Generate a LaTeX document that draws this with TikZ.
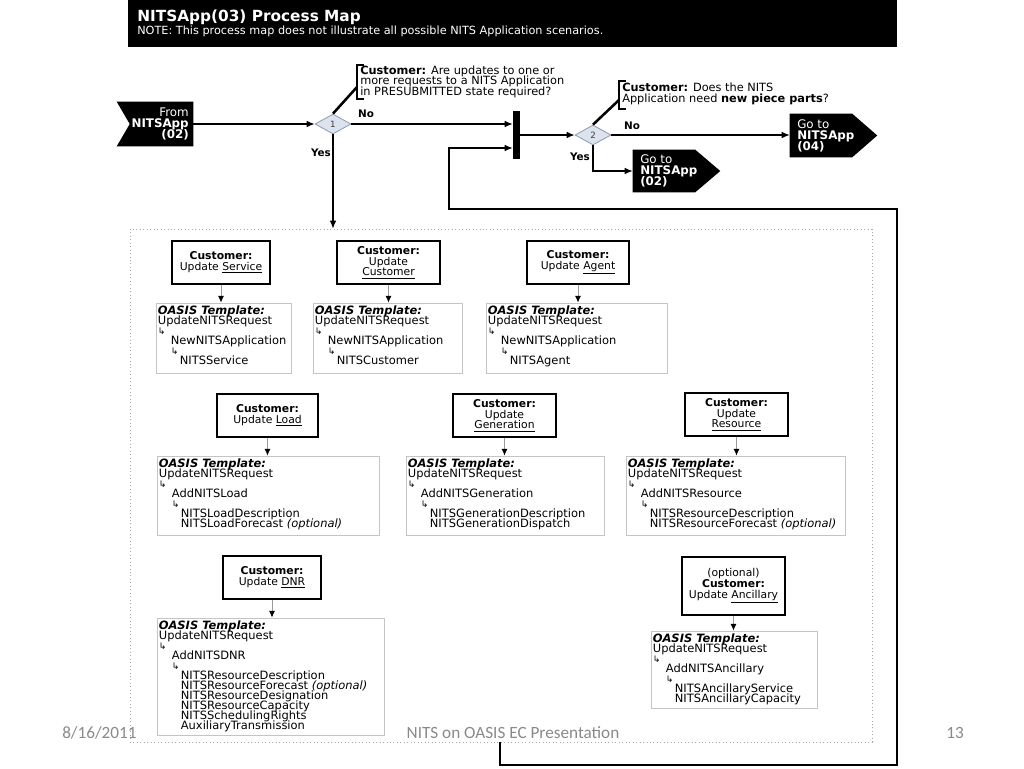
\documentclass[tikz,border=0pt]{standalone}
\usepackage{fontspec}
\setmainfont{DejaVu Sans}
\newfontfamily\footfont{Carlito}
\usetikzlibrary{arrows.meta,shapes.geometric,fit,calc}
\definecolor{tplgray}{HTML}{C4C4C4}
\definecolor{contgray}{HTML}{A8A8A8}
\definecolor{lngray}{HTML}{9A9A9A}
\definecolor{diafill}{HTML}{DCE3EE}
\definecolor{diadraw}{HTML}{8C9AAE}
\definecolor{footgray}{HTML}{8A8A8A}
\newcommand{\hk}{{\fontsize{6.8}{6.8}\selectfont ↳}}
\newcommand{\tight}{\lineskiplimit=-20pt\relax}
\tikzset{
  cbox/.style={draw=black, line width=1.5pt, inner sep=0pt},
  ctext/.style={inner sep=0pt, align=center,
    font=\fontsize{8.1}{8.0}\selectfont\tight},
  tbox/.style={draw=tplgray, line width=0.6pt, inner sep=0pt},
  tpl/.style={inner sep=0pt, anchor=north west, align=left,
    font=\fontsize{8.6}{7.52}\selectfont\tight},
  flow/.style={line width=0.9pt, -{Latex[length=6pt,width=5pt]}},
  sub/.style={draw=lngray, line width=0.7pt, -{Latex[length=5pt,width=4.5pt,black]}},
  dia/.style={diamond, aspect=1.8, draw=diadraw, fill=diafill, line width=0.6pt,
    minimum width=27pt, minimum height=15pt, inner sep=0pt,
    font=\fontsize{6.5}{7}\selectfont, text=black!75},
  lbl/.style={font=\bfseries\fontsize{7.8}{8}\selectfont, inner sep=0pt},
  callout/.style={line width=1.9pt},
  qtext/.style={inner sep=0pt, anchor=north west, align=left,
    font=\fontsize{8.5}{7.95}\selectfont\tight},
  ghost/.style={inner sep=0pt},
  wtext/.style={text=white, inner sep=0pt, font=\fontsize{8.9}{8.35}\selectfont\tight},
  foot/.style={inner sep=0pt, text=footgray, font=\footfont\fontsize{12.9}{14}\selectfont}
}
\begin{document}
\begin{tikzpicture}[x=0.75pt,y=-0.75pt]
\useasboundingbox (0,0) rectangle (1024,768);
\fill[white] (0,0) rectangle (1024,768);

% header
\node[ghost, fill=black, fit={(128,0)(897,47)}] (hdr) {};
\node[anchor=west, inner sep=0pt, text=white, font=\bfseries\fontsize{11.5}{13}\selectfont] (title) at (137,17) {NITSApp(03) Process Map};
\node[anchor=west, inner sep=0pt, text=white, font=\fontsize{8.45}{9}\selectfont] (note) at (137,31) {NOTE: This process map does not illustrate all possible NITS Application scenarios.};

% container
\node[ghost, draw=contgray, dotted, line width=0.6pt, fit={(130,229)(872,742)}] (cont) {};

% From NITSApp (02)
\node[ghost, fit={(117,102)(193,146)}] (fr) {};
\fill[black] (fr.north west) -- (fr.north east) -- (fr.south east) -- (fr.south west) -- ($(fr.west)+(13,0)$) -- cycle;
\node[wtext, align=right, anchor=east] (frt) at (189,124) {From\\\textbf{NITSApp}\\\textbf{(02)}};

% diamond 1
\node[dia] (d1) at (333,124) {1};
\node[ghost, fill=black, fit={(513,111)(520,159)}] (bar) {};

\draw[flow] (fr.east) -- (d1.west);
\draw[flow] (d1.east) -- (d1.east -| bar.west);
\draw[flow] (d1.south) -- (d1.south |- cont.north);
\node[lbl] (no1) at (366,114) {No};
\node[lbl] (yes1) at (321,153) {Yes};

% callout 1
\coordinate (q1b) at (357,87);
\draw[callout] (d1.north) -- (q1b);
\draw[callout] (364,65) -- (357,65) -- (357,99) -- (364,99);
\node[qtext] (q1) at (360,65.5) {\textbf{Customer:} Are updates to one or\\more requests to a NITS Application\\in PRESUBMITTED state required?};

% diamond 2
\node[dia] (d2) at (593,135) {2};
\draw[flow] (bar.east) -- (d2.west);
\coordinate (q2b) at (619,100);
\draw[callout] (d2.north) -- (q2b);
\draw[callout] (626,81) -- (619,81) -- (619,109) -- (626,109);
\node[qtext] (q2) at (622,83) {\textbf{Customer:} Does the NITS\\Application need \textbf{new piece parts}?};
\node[lbl] (no2) at (632,126) {No};
\node[lbl] (yes2) at (580,157) {Yes};

% Go to NITSApp (04)
\node[ghost, fit={(790,114)(877,157)}] (g4) {};
\fill[black] (g4.north west) -- ($(g4.north east)+(-25,0)$) -- (g4.east) -- ($(g4.south east)+(-25,0)$) -- (g4.south west) -- cycle;
\node[wtext, align=left, anchor=west] (g4t) at (797,136) {Go to\\\textbf{NITSApp}\\\textbf{(04)}};
% Go to NITSApp (02)
\node[ghost, fit={(633,150)(720,192)}] (g2) {};
\fill[black] (g2.north west) -- ($(g2.north east)+(-25,0)$) -- (g2.east) -- ($(g2.south east)+(-25,0)$) -- (g2.south west) -- cycle;
\node[wtext, align=left, anchor=west] (g2t) at (640,171) {Go to\\\textbf{NITSApp}\\\textbf{(02)}};

\draw[flow] (d2.east) -- (d2.east -| g4.west);
\draw[flow] (d2.south) |- (g2.west);

% loop back
\coordinate (l1) at (500,765);
\coordinate (l2) at (897,765);
\coordinate (l3) at (897,209);
\coordinate (l4) at (449,209);
\coordinate (l5) at (449,148);
\draw[flow] (cont.south -| l1) -- (l1) -- (l2) -- (l3) -- (l4) -- (l5) -- (l5 -| bar.west);

% customer boxes
\node[cbox, fit={(172,241)(270,284)}] (c1) {};
\node[cbox, fit={(337,241)(440,284)}] (c2) {};
\node[cbox, fit={(527,241)(629,284)}] (c3) {};
\node[cbox, fit={(217,394)(318,437)}] (c4) {};
\node[cbox, fit={(453,394)(556,437)}] (c5) {};
\node[cbox, fit={(685,393)(788,436)}] (c6) {};
\node[cbox, fit={(223,556)(321,599)}] (c7) {};
\node[cbox, fit={(682,557)(785,615)}] (c8) {};
\node[ctext] (c1t) at (c1.center) {\textbf{Customer:}\\Update \underline{Service}};
\node[ctext] (c2t) at (c2.center) {\textbf{Customer:}\\Update\\\underline{Customer}};
\node[ctext] (c3t) at (c3.center) {\textbf{Customer:}\\Update \underline{Agent}};
\node[ctext] (c4t) at (c4.center) {\textbf{Customer:}\\Update \underline{Load}};
\node[ctext] (c5t) at (c5.center) {\textbf{Customer:}\\Update\\\underline{Generation}};
\node[ctext] (c6t) at (c6.center) {\textbf{Customer:}\\Update\\\underline{Resource}};
\node[ctext] (c7t) at (c7.center) {\textbf{Customer:}\\Update \underline{DNR}};
\node[ctext] (c8t) at (c8.center) {(optional)\\\textbf{Customer:}\\Update \underline{Ancillary}};

% template boxes
\node[tbox, fit={(156,303)(291,373)}] (t1) {};
\node[tbox, fit={(313,303)(462,373)}] (t2) {};
\node[tbox, fit={(486,303)(667,373)}] (t3) {};
\node[tbox, fit={(157,456)(379,535)}] (t4) {};
\node[tbox, fit={(406,456)(604,535)}] (t5) {};
\node[tbox, fit={(626,456)(845,535)}] (t6) {};
\node[tbox, fit={(157,618)(384,735)}] (t7) {};
\node[tbox, fit={(651,631)(817,708)}] (t8) {};

\foreach \c/\t in {c1/t1,c2/t2,c3/t3,c4/t4,c5/t5,c6/t6,c7/t7,c8/t8}
  \draw[sub] (\c.south) -- (\c.south |- \t.north);

\newcommand{\oasis}{\textbf{\textit{OASIS Template:}}\\UpdateNITSRequest\\\hk\\}
\node[tpl] (t1x) at ($(t1.north west)+(2,2.5)$) {\oasis\hspace*{9.75pt}NewNITSApplication\\\hspace*{9.75pt}\hk\\\hspace*{16.5pt}NITSService};
\node[tpl] (t2x) at ($(t2.north west)+(2,2.5)$) {\oasis\hspace*{9.75pt}NewNITSApplication\\\hspace*{9.75pt}\hk\\\hspace*{16.5pt}NITSCustomer};
\node[tpl] (t3x) at ($(t3.north west)+(2,2.5)$) {\oasis\hspace*{9.75pt}NewNITSApplication\\\hspace*{9.75pt}\hk\\\hspace*{16.5pt}NITSAgent};
\node[tpl] (t4x) at ($(t4.north west)+(2,2.5)$) {\oasis\hspace*{9.75pt}AddNITSLoad\\\hspace*{9.75pt}\hk\\\hspace*{16.5pt}NITSLoadDescription\\\hspace*{16.5pt}NITSLoadForecast \textit{(optional)}};
\node[tpl] (t5x) at ($(t5.north west)+(2,2.5)$) {\oasis\hspace*{9.75pt}AddNITSGeneration\\\hspace*{9.75pt}\hk\\\hspace*{16.5pt}NITSGenerationDescription\\\hspace*{16.5pt}NITSGenerationDispatch};
\node[tpl] (t6x) at ($(t6.north west)+(2,2.5)$) {\oasis\hspace*{9.75pt}AddNITSResource\\\hspace*{9.75pt}\hk\\\hspace*{16.5pt}NITSResourceDescription\\\hspace*{16.5pt}NITSResourceForecast \textit{(optional)}};
\node[tpl] (t7x) at ($(t7.north west)+(2,2.5)$) {\oasis\hspace*{9.75pt}AddNITSDNR\\\hspace*{9.75pt}\hk\\\hspace*{16.5pt}NITSResourceDescription\\\hspace*{16.5pt}NITSResourceForecast \textit{(optional)}\\\hspace*{16.5pt}NITSResourceDesignation\\\hspace*{16.5pt}NITSResourceCapacity\\\hspace*{16.5pt}NITSSchedulingRights\\\hspace*{16.5pt}AuxiliaryTransmission};
\node[tpl] (t8x) at ($(t8.north west)+(2,2.5)$) {\oasis\hspace*{9.75pt}AddNITSAncillary\\\hspace*{9.75pt}\hk\\\hspace*{16.5pt}NITSAncillaryService\\\hspace*{16.5pt}NITSAncillaryCapacity};

% footer
\node[foot, anchor=west] (fdate) at (62,733) {8/16/2011};
\node[foot] (ftitle) at (513,733) {NITS on OASIS EC Presentation};
\node[foot] (fnum) at (955,733) {13};
\end{tikzpicture}
\end{document}
